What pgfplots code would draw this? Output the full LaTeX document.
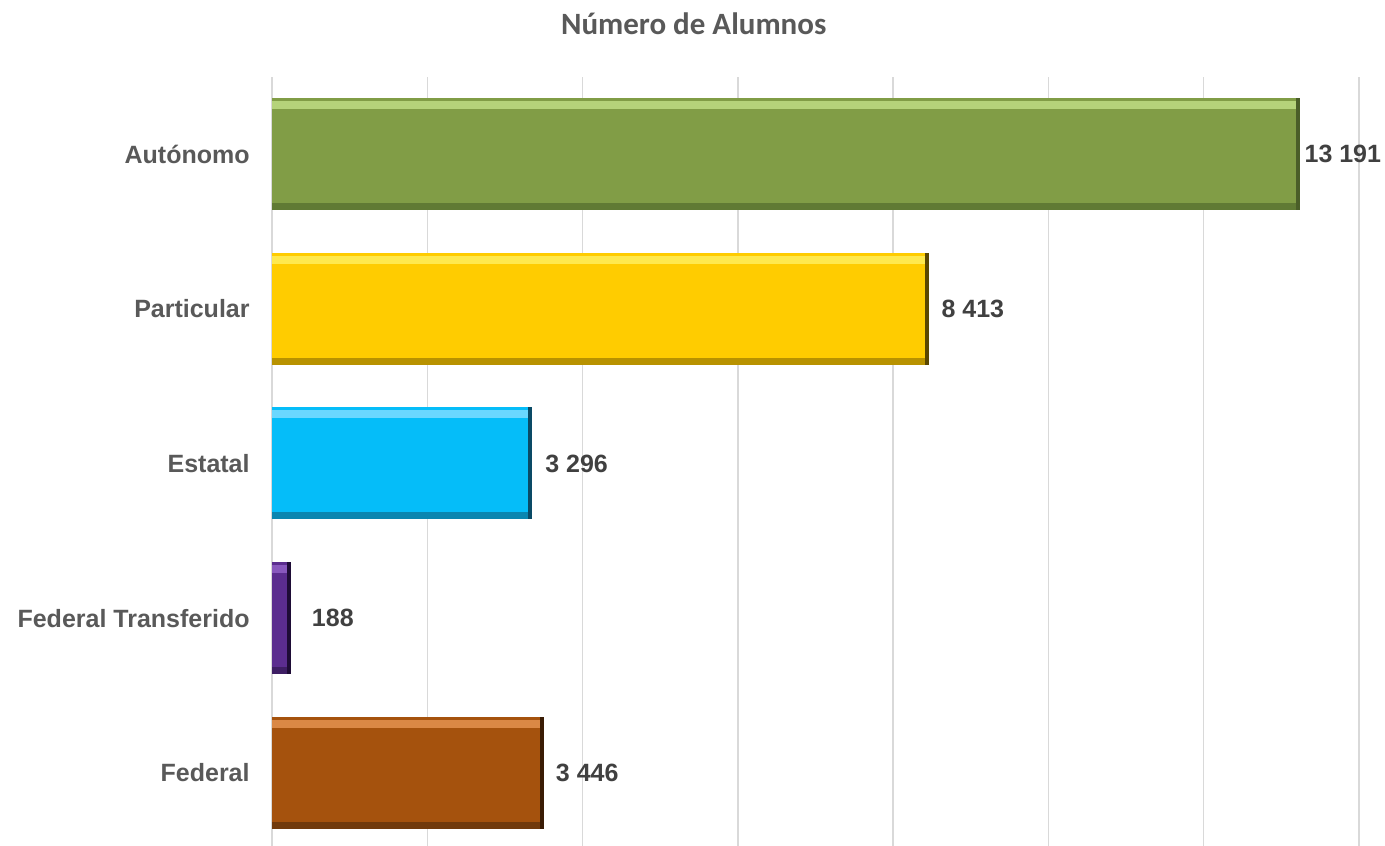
\documentclass[border=0pt]{standalone}
\usepackage{pgfplots}
\pgfplotsset{compat=1.18}
\usepackage{fontspec}
\setmainfont{Liberation Sans}
\newfontfamily\titlefont{Carlito}
\definecolor{lblgray}{HTML}{595959}
\definecolor{valgray}{HTML}{404040}
\definecolor{gridgray}{HTML}{D9D9D9}
\definecolor{cgm}{HTML}{819D46}\definecolor{cgl}{HTML}{B5D37A}\definecolor{cgd}{HTML}{4A5E28}\definecolor{cgb}{HTML}{607A34}
\definecolor{cym}{HTML}{FFCC00}\definecolor{cyl}{HTML}{FFE94D}\definecolor{cyd}{HTML}{5A4700}\definecolor{cyb}{HTML}{B89200}
\definecolor{ccm}{HTML}{05BDF9}\definecolor{ccl}{HTML}{6AD7FF}\definecolor{ccd}{HTML}{0A4A66}\definecolor{ccb}{HTML}{0A86B0}
\definecolor{cpm}{HTML}{5B2D8F}\definecolor{cpl}{HTML}{8858BD}\definecolor{cpd}{HTML}{1E0C36}\definecolor{cpb}{HTML}{3E1E64}
\definecolor{cbm}{HTML}{A5520D}\definecolor{cbl}{HTML}{DA8845}\definecolor{cbd}{HTML}{3A1C05}\definecolor{cbb}{HTML}{713A0C}
\begin{document}
\begin{tikzpicture}
\path[use as bounding box] (-136pt,2.7pt) rectangle (556.5pt,425.2pt);
\begin{axis}[
  at={(0,0)}, anchor=south west,
  scale only axis,
  width=543.5pt, height=386.9pt,
  xbar, bar shift=0pt, bar width=56pt,
  xmin=0, xmax=14000,
  ymin=-0.5, ymax=4.5,
  xtick={0,2000,...,14000},
  xticklabels={},
  scaled x ticks=false,
  ytick={0,1,2,3,4},
  yticklabels={Federal,Federal Transferido,Estatal,Particular,Autónomo},
  major tick length=0pt,
  axis line style={draw=none},
  xmajorgrids,
  grid style={gridgray, line width=0.75pt},
  y tick label style={font=\fontsize{12.5}{14}\selectfont\bfseries, text=lblgray, inner sep=0pt, xshift=-11pt},
  title={Número de Alumnos},
  title style={font=\titlefont\fontsize{15.5}{17}\selectfont\bfseries, text=lblgray, at={(0.388,1)}, anchor=center, yshift=20.3pt},
  clip=false,
]
% dark right edge
\addplot[draw=none, fill=cbd, bar width=56pt, bar shift=0pt, xshift=2pt] coordinates {(3446,0)};
\addplot[draw=none, fill=cpd, bar width=56pt, bar shift=0pt, xshift=2pt] coordinates {(188,1)};
\addplot[draw=none, fill=ccd, bar width=56pt, bar shift=0pt, xshift=2pt] coordinates {(3296,2)};
\addplot[draw=none, fill=cyd, bar width=56pt, bar shift=0pt, xshift=2pt] coordinates {(8413,3)};
\addplot[draw=none, fill=cgd, bar width=56pt, bar shift=0pt, xshift=2pt] coordinates {(13191,4)};
% bottom bevel
\addplot[draw=none, fill=cbb, bar width=56pt, bar shift=0pt] coordinates {(3446,0)};
\addplot[draw=none, fill=cpb, bar width=56pt, bar shift=0pt] coordinates {(188,1)};
\addplot[draw=none, fill=ccb, bar width=56pt, bar shift=0pt] coordinates {(3296,2)};
\addplot[draw=none, fill=cyb, bar width=56pt, bar shift=0pt] coordinates {(8413,3)};
\addplot[draw=none, fill=cgb, bar width=56pt, bar shift=0pt] coordinates {(13191,4)};
% main face
\addplot[draw=none, fill=cbm, bar width=52.5pt, bar shift=1.75pt] coordinates {(3446,0)};
\addplot[draw=none, fill=cpm, bar width=52.5pt, bar shift=1.75pt] coordinates {(188,1)};
\addplot[draw=none, fill=ccm, bar width=52.5pt, bar shift=1.75pt] coordinates {(3296,2)};
\addplot[draw=none, fill=cym, bar width=52.5pt, bar shift=1.75pt] coordinates {(8413,3)};
\addplot[draw=none, fill=cgm, bar width=52.5pt, bar shift=1.75pt] coordinates {(13191,4)};
% top highlight
\addplot[draw=none, fill=cbl, bar width=4pt, bar shift=24.5pt] coordinates {(3446,0)};
\addplot[draw=none, fill=cpl, bar width=4pt, bar shift=24.5pt] coordinates {(188,1)};
\addplot[draw=none, fill=ccl, bar width=4pt, bar shift=24.5pt] coordinates {(3296,2)};
\addplot[draw=none, fill=cyl, bar width=4pt, bar shift=24.5pt] coordinates {(8413,3)};
\addplot[draw=none, fill=cgl, bar width=4pt, bar shift=24.5pt] coordinates {(13191,4)};
% value labels
\addplot[draw=none, fill=none, point meta=explicit symbolic, nodes near coords,
  nodes near coords style={font=\fontsize{12.5}{14}\selectfont\bfseries, text=valgray, anchor=west, inner sep=0pt}]
  coordinates {(3446,0) [\hspace*{8pt}3 446] (188,1) [\hspace*{12.5pt}188] (3296,2) [\hspace*{8.5pt}3 296] (8413,3) [\hspace*{8pt}8 413] (13191,4) [\hspace*{4pt}13 191]};
\end{axis}
\end{tikzpicture}
\end{document}
